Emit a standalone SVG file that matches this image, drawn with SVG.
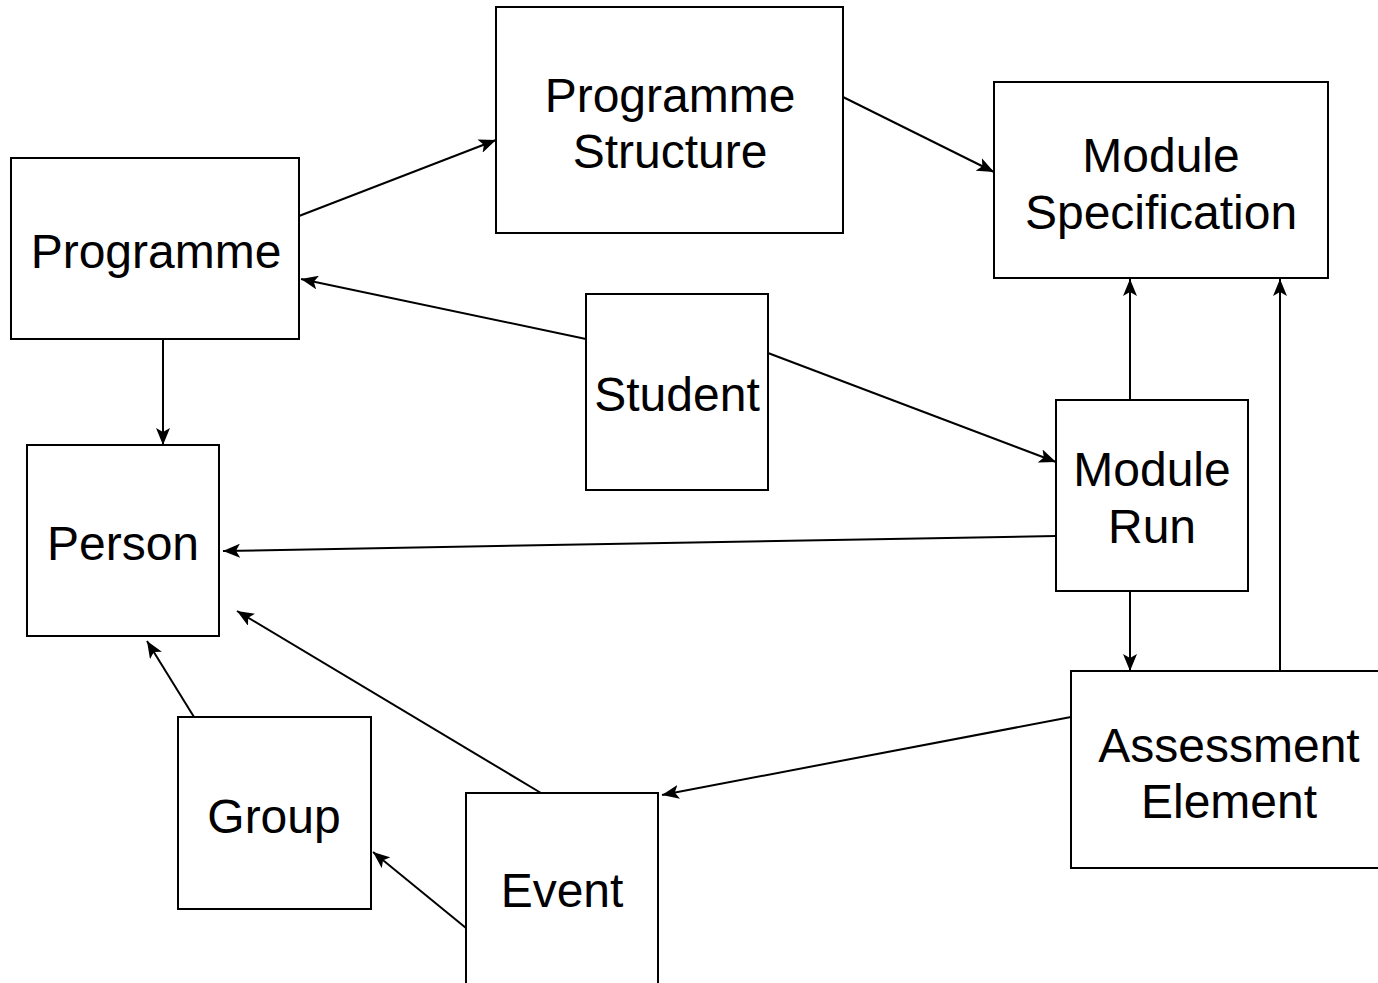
<svg xmlns="http://www.w3.org/2000/svg" width="1378" height="983" viewBox="0 0 1378 983">
<defs>
<style>
.box{fill:#fff;stroke:#000;stroke-width:2}
.lbl{font-family:"Liberation Sans",Arial,sans-serif;font-size:48px;fill:#000;text-anchor:middle}
.edge{stroke:#000;stroke-width:2;fill:none;marker-end:url(#arr)}
</style>
<marker id="arr" markerUnits="userSpaceOnUse" markerWidth="18" markerHeight="14" viewBox="0 0 18 14" refX="17" refY="7" orient="auto">
<path d="M0,0 L17,7 L0,14 L4,7 z" fill="#000"/>
</marker>
</defs>
<rect width="1378" height="983" fill="#fff"/>
<g id="connectors">
<line class="edge" x1="299" y1="216" x2="496" y2="140"/>
<line class="edge" x1="843" y1="97" x2="994" y2="172"/>
<line class="edge" x1="586" y1="339" x2="301" y2="279"/>
<line class="edge" x1="768" y1="353" x2="1056" y2="462"/>
<line class="edge" x1="163" y1="339" x2="163" y2="445"/>
<line class="edge" x1="1130" y1="400" x2="1130" y2="279"/>
<line class="edge" x1="1056" y1="536" x2="223" y2="551"/>
<line class="edge" x1="1130" y1="591" x2="1130" y2="671"/>
<line class="edge" x1="1280" y1="671" x2="1280" y2="279"/>
<line class="edge" x1="1071" y1="717" x2="662" y2="795"/>
<line class="edge" x1="541" y1="793" x2="237" y2="611"/>
<line class="edge" x1="194" y1="717" x2="147" y2="641"/>
<line class="edge" x1="466" y1="928" x2="373" y2="852"/>
</g>
<g id="programme-structure">
<rect class="box" x="496" y="7" width="347" height="226"/>
<text class="lbl" x="670" y="112">Programme</text>
<text class="lbl" x="670" y="168">Structure</text>
</g>
<g id="module-specification">
<rect class="box" x="994" y="82" width="334" height="196"/>
<text class="lbl" x="1161" y="172">Module</text>
<text class="lbl" x="1161" y="229">Specification</text>
</g>
<g id="programme">
<rect class="box" x="11" y="158" width="288" height="181"/>
<text class="lbl" x="156" y="268">Programme</text>
</g>
<g id="student">
<rect class="box" x="586" y="294" width="182" height="196"/>
<text class="lbl" x="677" y="411">Student</text>
</g>
<g id="module-run">
<rect class="box" x="1056" y="400" width="192" height="191"/>
<text class="lbl" x="1152" y="486">Module</text>
<text class="lbl" x="1152" y="543">Run</text>
</g>
<g id="person">
<rect class="box" x="27" y="445" width="192" height="191"/>
<text class="lbl" x="123" y="560">Person</text>
</g>
<g id="assessment-element">
<rect class="box" x="1071" y="671" width="316" height="197"/>
<text class="lbl" x="1229" y="762">Assessment</text>
<text class="lbl" x="1229" y="818">Element</text>
</g>
<g id="group">
<rect class="box" x="178" y="717" width="193" height="192"/>
<text class="lbl" x="274" y="833">Group</text>
</g>
<g id="event">
<rect class="box" x="466" y="793" width="192" height="196"/>
<text class="lbl" x="562" y="907">Event</text>
</g>
</svg>
